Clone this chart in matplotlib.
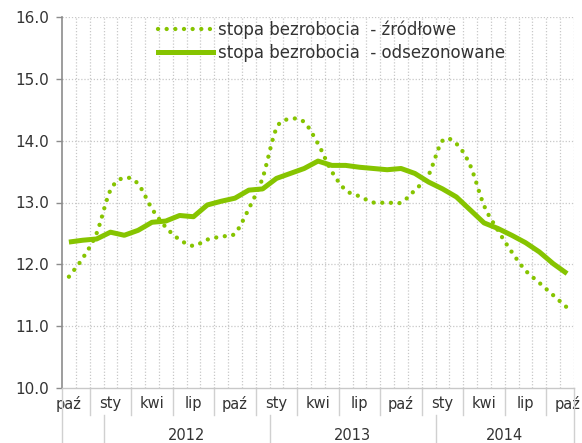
import matplotlib
matplotlib.use("Agg")
import matplotlib.pyplot as plt
import matplotlib.transforms as mtransforms
from matplotlib.path import Path
from matplotlib.patches import PathPatch
from matplotlib.lines import Line2D
import numpy as np

# ---- data ----
month_labels = ["paź", "lis", "gru", "sty", "lut", "mar", "kwi", "maj", "cze", "lip", "sie", "wrz"] * 3 + ["paź"]
years = ["2012", "2013", "2014"]
raw = [11.8, 12.1, 12.5, 13.2, 13.4, 13.3, 12.9, 12.6, 12.4, 12.3, 12.4, 12.45,
       12.5, 12.9, 13.4, 14.2, 14.35, 14.3, 13.95, 13.5, 13.2, 13.1, 13.0, 13.0,
       13.0, 13.2, 13.45, 14.0, 13.95, 13.6, 12.95, 12.55, 12.2, 11.9, 11.7, 11.5, 11.3]
sa = [12.36, 12.39, 12.41, 12.52, 12.47, 12.55, 12.68, 12.70, 12.79, 12.77, 12.96, 13.02,
      13.07, 13.20, 13.22, 13.39, 13.47, 13.55, 13.67, 13.60, 13.60, 13.57, 13.55, 13.53,
      13.55, 13.47, 13.33, 13.22, 13.09, 12.88, 12.67, 12.58, 12.47, 12.35, 12.20, 12.01, 11.85]
legend_labels = ["stopa bezrobocia  - źródłowe", "stopa bezrobocia  - odsezonowane"]

GREEN = "#86C400"
TEXT = "#333333"
GRID = "#c8c8c8"
FS = 10.5

plt.rcParams["font.family"] = ["DejaVu Sans"]

fig = plt.figure(figsize=(5.82, 4.43), dpi=100)
ax = fig.add_axes([62 / 582, 1 - 388 / 443, (574 - 62) / 582, (388 - 17) / 443])

x = np.arange(len(raw))
y = np.array(raw, dtype=float)

# smoothed (Bezier) rendering of the raw series, passing through every data point
verts = [(x[0], y[0])]
codes = [Path.MOVETO]
n = len(x)
for i in range(n - 1):
    p0 = np.array([x[max(i - 1, 0)], y[max(i - 1, 0)]])
    p1 = np.array([x[i], y[i]])
    p2 = np.array([x[i + 1], y[i + 1]])
    p3 = np.array([x[min(i + 2, n - 1)], y[min(i + 2, n - 1)]])
    c1 = p1 + (p2 - p0) / 6.0
    c2 = p2 - (p3 - p1) / 6.0
    verts += [tuple(c1), tuple(c2), tuple(p2)]
    codes += [Path.CURVE4, Path.CURVE4, Path.CURVE4]
DOT_LS = (0, (0.01, 2.0))
patch = PathPatch(Path(verts, codes), facecolor="none", edgecolor=GREEN, lw=3.1,
                  linestyle=DOT_LS, capstyle="round", zorder=3)
ax.add_patch(patch)

ax.plot(x, sa, color=GREEN, lw=3.6, solid_joinstyle="round", solid_capstyle="butt", zorder=4)

ax.set_xlim(-0.5, len(raw) - 0.5)
ax.set_ylim(10, 16)
yt = np.arange(10, 16.01, 1.0)
ax.set_yticks(yt)
ax.set_yticklabels([f"{v:.1f}" for v in yt], fontsize=FS + 0.5, color=TEXT)

# grid
for v in yt[1:]:
    ax.axhline(v, color=GRID, lw=0.9, linestyle=(0, (1, 1.5)), zorder=1)
for k in range(1, len(raw) + 1):
    ax.axvline(k - 0.5, color=GRID, lw=0.9, linestyle=(0, (1, 1.5)), zorder=1)

for s in ["top", "right"]:
    ax.spines[s].set_visible(False)
ax.spines["left"].set_color("#8c8c8c")
ax.spines["left"].set_linewidth(1.2)
ax.spines["bottom"].set_color("#c8c8c8")
ax.spines["bottom"].set_linewidth(1.0)
ax.tick_params(axis="y", length=4, width=1, color="#8c8c8c", pad=5)

# month labels every quarter
tick_pos = [i for i in x if i % 3 == 0]
ax.set_xticks(tick_pos)
ax.set_xticklabels([month_labels[i] for i in tick_pos], fontsize=FS, color=TEXT)
ax.tick_params(axis="x", length=0, pad=6)

trans = mtransforms.blended_transform_factory(ax.transData, ax.transAxes)
row1 = -(415 - 388) / 371
row2 = -(443 - 388) / 371
sep = dict(transform=trans, color="#d0d0d0", lw=1.0, clip_on=False)
for k in range(2, len(raw), 3):
    ax.plot([k - 0.5, k - 0.5], [0, row1], **sep)
ax.plot([-0.5, -0.5], [0, row2], **sep)
ax.plot([len(raw) - 0.5] * 2, [0, row2], **sep)
year_bounds = [3, 15, 27, len(raw)]
for k in year_bounds[:-1]:
    ax.plot([k - 0.5, k - 0.5], [row1, row2], **sep)
for yr, a, b in zip(years, year_bounds[:-1], year_bounds[1:]):
    ax.text((a - 0.5 + b - 0.5) / 2, -(436 - 388) / 371, yr, transform=trans, ha="center", va="center",
            fontsize=FS, color=TEXT)

handles = [Line2D([], [], color=GREEN, lw=3.1, linestyle=DOT_LS, dash_capstyle="round"),
           Line2D([], [], color=GREEN, lw=3.6)]
leg = ax.legend(handles, legend_labels, loc="upper left",
                bbox_to_anchor=((156 - 62) / 512, (388 - 19) / 371), frameon=False,
                fontsize=12, handlelength=3.3, handletextpad=0.35, labelspacing=0.3,
                borderaxespad=0, borderpad=0.1)
for t in leg.get_texts():
    t.set_color(TEXT)

fig.savefig("out.png", dpi=100)
